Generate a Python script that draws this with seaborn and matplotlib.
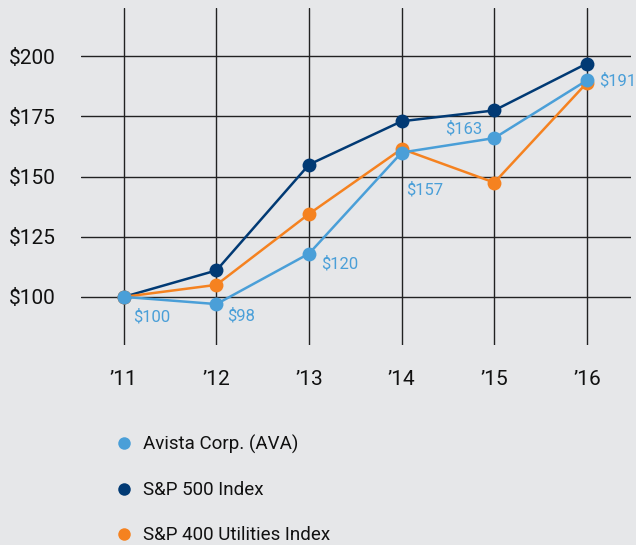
import pandas as pd
import matplotlib.pyplot as plt
import seaborn as sns
from matplotlib.lines import Line2D

years = ['\u201911', '\u201912', '\u201913', '\u201914', '\u201915', '\u201916']
ava = [100, 97, 118, 160, 166, 190]
sp500 = [100, 111, 155, 173, 177.5, 197]
sp400_util = [100, 105, 134.5, 161.5, 147.5, 189]
ava_labels = ['$100', '$98', '$120', '$157', '$163', '$191']

series_names = ['S&P 500 Index', 'S&P 400 Utilities Index', 'Avista Corp. (AVA)']
legend_order = ['Avista Corp. (AVA)', 'S&P 500 Index', 'S&P 400 Utilities Index']
colors = {'Avista Corp. (AVA)': '#4a9fd8', 'S&P 500 Index': '#013a74', 'S&P 400 Utilities Index': '#f58220'}

bg = '#e6e7e9'
sns.set_style('white')
plt.rcParams['font.family'] = ['Roboto', 'DejaVu Sans']

df = pd.DataFrame({
    'x': list(range(len(years))) * 3,
    'value': sp500 + sp400_util + ava,
    'series': [s for s in series_names for _ in years],
})

fig = plt.figure(figsize=(6.36, 5.45), dpi=100, facecolor=bg)
ax = fig.add_axes([0.127, 0.367, 0.865, 0.618])
ax.set_facecolor(bg)

sns.lineplot(data=df, x='x', y='value', hue='series', hue_order=series_names,
             palette=colors, marker='o', markersize=10, markeredgewidth=0,
             linewidth=1.8, legend=False, ax=ax, zorder=3)

# data labels for AVA (offsets in points, alignment)
offsets = [(6.5, -14.5, 'left'), (8, -8.6, 'left'), (9, -7, 'left'),
           (3, -26.5, 'left'), (-8.6, 6.5, 'right'), (8.6, 0, 'left')]
for i, (lab, (dx, dy, ha)) in enumerate(zip(ava_labels, offsets)):
    ax.annotate(lab, (i, ava[i]), xytext=(dx, dy), textcoords='offset points',
                color=colors['Avista Corp. (AVA)'], fontsize=12, va='center', ha=ha,
                zorder=4, annotation_clip=False)

ax.set_xlim(-0.465, 5.475)
ax.set_ylim(80, 220)
ax.set_xticks(range(len(years)))
ax.set_xticklabels(years)
ax.set_yticks([100, 125, 150, 175, 200])
ax.set_yticklabels(['$100', '$125', '$150', '$175', '$200'])
ax.tick_params(axis='x', length=0, pad=18, labelsize=15, colors='#111111')
ax.tick_params(axis='y', length=0, pad=18, labelsize=15, colors='#111111')
ax.set_xlabel('')
ax.set_ylabel('')
ax.grid(True, color='#222222', linewidth=1.0)
for s in ax.spines.values():
    s.set_visible(False)

handles = [Line2D([], [], linestyle='', marker='o', markersize=9, markeredgewidth=0,
                  color=colors[n]) for n in legend_order]
fig.legend(handles, legend_order, loc='upper left', bbox_to_anchor=(0.181, 0.202),
           frameon=False, fontsize=13.5, labelspacing=1.45, handletextpad=0.5,
           handlelength=1.0, borderpad=0, borderaxespad=0, labelcolor='#111111')

fig.savefig('out.png', dpi=100, facecolor=bg)
